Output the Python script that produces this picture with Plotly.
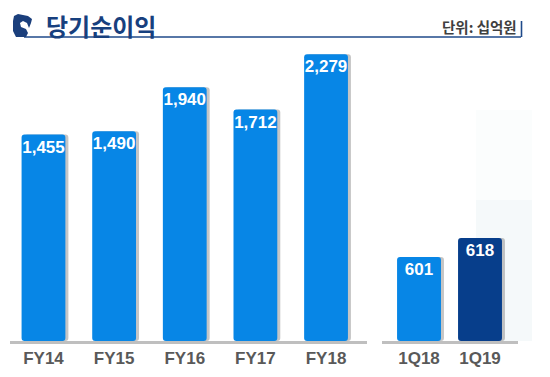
import plotly.graph_objects as go

# ---- data ----
fy_labels = ["FY14", "FY15", "FY16", "FY17", "FY18"]
fy_values = [1455, 1490, 1940, 1712, 2279]
q_labels = ["1Q18", "1Q19"]
q_values = [601, 618]

title_text = "당기순이익"
unit_text = "단위: 십억원"

# ---- geometry helpers (page pixel -> paper); page body has an 8px margin ----
OFF = 8
W, H = 550 - OFF, 377 - OFF
def px(x): return (x - OFF) / W
def py(y): return 1 - (y - OFF) / H

BLUE = "#0786e6"
NAVY = "#073e8b"
SHADOW = "rgba(110,110,110,0.4)"

FY_MIN, FY_MAX = -662, 2415
Q_MIN, Q_MAX = 525.9, 794.2

fy_w = 0.62
q_w = 0.72

fig = go.Figure()

# shadows
fig.add_trace(go.Bar(
    x=fy_labels, y=[v - FY_MIN for v in fy_values], base=FY_MIN,
    width=fy_w, offset=-fy_w / 2 + 3 / 70.6,
    marker=dict(color=SHADOW, cornerradius=3, line=dict(width=0)),
    hoverinfo="skip", xaxis="x", yaxis="y", showlegend=False))
fig.add_trace(go.Bar(
    x=q_labels, y=[v - Q_MIN for v in q_values], base=Q_MIN,
    width=q_w, offset=-q_w / 2 + 3 / 61,
    marker=dict(color=SHADOW, cornerradius=3, line=dict(width=0)),
    hoverinfo="skip", xaxis="x2", yaxis="y2", showlegend=False))

bar_font = dict(family="Liberation Sans, Arial, sans-serif", size=17,
                color="white", weight="bold")

fig.add_trace(go.Bar(
    x=fy_labels, y=[v - FY_MIN for v in fy_values], base=FY_MIN,
    width=fy_w, offset=-fy_w / 2,
    text=[f"{v:,}" for v in fy_values], textposition="inside", textangle=0,
    insidetextanchor="end", constraintext="none", textfont=bar_font,
    marker=dict(color=BLUE, cornerradius=3, line=dict(width=0)),
    xaxis="x", yaxis="y", showlegend=False))
fig.add_trace(go.Bar(
    x=q_labels, y=[v - Q_MIN for v in q_values], base=Q_MIN,
    width=q_w, offset=-q_w / 2,
    text=[f"{v:,}" for v in q_values], textposition="inside", textangle=0,
    insidetextanchor="end", constraintext="none", textfont=bar_font,
    marker=dict(color=[BLUE, NAVY], cornerradius=3, line=dict(width=0)),
    xaxis="x2", yaxis="y2", showlegend=False))

tick_font = dict(family="Liberation Sans, Arial, sans-serif", size=17,
                 color="#595959", weight="bold")

common_x = dict(type="category", showline=True, linecolor="#bfbfbf",
                linewidth=2.5, ticks="", showgrid=False, zeroline=False,
                tickfont=tick_font, fixedrange=True)

fig.update_layout(
    width=W, height=H,
    margin=dict(l=0, r=0, t=0, b=0),
    paper_bgcolor="white", plot_bgcolor="rgba(0,0,0,0)",
    barmode="overlay",
    xaxis=dict(domain=[px(10), px(367)], range=[-0.474, 4.58], anchor="y", **common_x),
    xaxis2=dict(domain=[px(382), px(518)], range=[-0.607, 1.623], anchor="y2", **common_x),
    yaxis=dict(domain=[py(341), py(41)], range=[FY_MIN, FY_MAX], visible=False,
               fixedrange=True),
    yaxis2=dict(domain=[py(341), py(41)], range=[Q_MIN, Q_MAX], visible=False,
                anchor="x2", fixedrange=True),
)

shapes = []
# faint highlight band behind 1Q19
shapes.append(dict(type="rect", xref="paper", yref="paper",
                   x0=px(476), x1=px(532), y0=py(200), y1=py(110),
                   fillcolor="#fbfdfd", line=dict(width=0), layer="below"))
shapes.append(dict(type="rect", xref="paper", yref="paper",
                   x0=px(476), x1=px(532), y0=py(341), y1=py(200),
                   fillcolor="#f5f9fa", line=dict(width=0), layer="below"))
# title underline and end tick
shapes.append(dict(type="line", xref="paper", yref="paper",
                   x0=px(24), x1=px(521), y0=py(37), y1=py(37),
                   line=dict(color="#1f4a8a", width=1.6)))
shapes.append(dict(type="line", xref="paper", yref="paper",
                   x0=px(521.5), x1=px(521.5), y0=py(21), y1=py(37),
                   line=dict(color="#1f4a8a", width=1.6)))
# logo (stylised knight head)
coords = [(13, 21), (14, 16), (18, 14), (23, 15), (28, 16), (32, 19),
          (31, 23), (29, 28), (27, 23), (23, 21), (20, 23), (21, 27),
          (26, 29), (28, 33), (26, 37), (16, 37), (13, 31)]
path = "M " + " L ".join(f"{px(x):.5f},{py(y):.5f}" for x, y in coords) + " Z"
shapes.append(dict(type="path", xref="paper", yref="paper", path=path,
                   fillcolor="#1b3f7c", line=dict(width=0)))
fig.update_layout(shapes=shapes)

fig.add_annotation(xref="paper", yref="paper", x=px(45), y=py(25.5),
                   xanchor="left", yanchor="middle", showarrow=False,
                   text=title_text, borderpad=0,
                   font=dict(family="Noto Sans CJK KR", size=24,
                             color="#17407e", weight="bold"))
fig.add_annotation(xref="paper", yref="paper", x=px(519), y=py(27),
                   xanchor="right", yanchor="middle", showarrow=False,
                   text=unit_text,
                   font=dict(family="Noto Sans CJK KR", size=14.5,
                             color="#404040", weight="bold"))

fig.write_html("out.html")
